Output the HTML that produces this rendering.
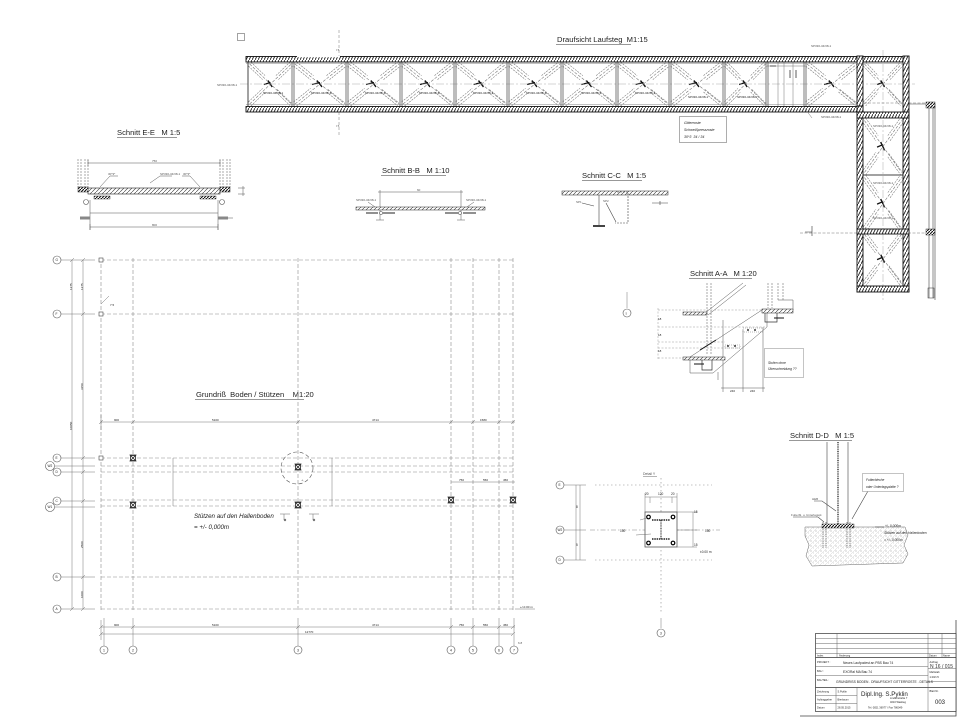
<!DOCTYPE html>
<html><head><meta charset="utf-8">
<style>
html,body{margin:0;padding:0;background:#fff;}
svg{display:block;}
text{font-family:"Liberation Sans",sans-serif;fill:#222;white-space:pre;}
.t{font-size:7.6px;}
.s{font-size:3px;fill:#555;}
.m{font-size:4.5px;fill:#333;}
.g{stroke:#8a8a8a;stroke-width:0.6;stroke-dasharray:4 2;fill:none;}
.l{stroke:#333;stroke-width:0.6;fill:none;}
.d{stroke:#666;stroke-width:0.45;fill:none;}
.c{stroke:#555;stroke-width:0.6;fill:#fff;}
</style></head><body>
<svg width="960" height="720" viewBox="0 0 960 720" xmlns="http://www.w3.org/2000/svg">
<defs>
<pattern id="h" width="3" height="3" patternUnits="userSpaceOnUse"><rect width="3" height="3" fill="#fff"/><path d="M0,3L3,0" stroke="#111" stroke-width="1.1"/></pattern>
<pattern id="rl" width="3" height="6" patternUnits="userSpaceOnUse"><rect width="3" height="6" fill="#fff"/><path d="M0,6L3,0" stroke="#222" stroke-width="0.9"/></pattern>
<pattern id="gr" width="4" height="4" patternUnits="userSpaceOnUse"><rect width="4" height="4" fill="#fff"/><path d="M0,4L4,0" stroke="#333" stroke-width="0.6"/></pattern>
<pattern id="conc" width="5" height="5" patternUnits="userSpaceOnUse"><rect width="5" height="5" fill="#fff"/><circle cx="1" cy="1" r="0.45" fill="#777"/><circle cx="3.5" cy="3" r="0.35" fill="#999"/><path d="M0,5L5,0" stroke="#bbb" stroke-width="0.35"/></pattern>
<symbol id="pn" viewBox="0 0 54 44" preserveAspectRatio="none">
 <path d="M2,2L52,42M2,42L52,2" stroke="#777" stroke-width="0.6" stroke-dasharray="3 1.5" fill="none" vector-effect="non-scaling-stroke"/>
 <path d="M3.5,0L20.5,13.6M0.5,4L17.5,17.6M35,27.5L52,41M33.5,30L50.5,43.6M3.5,44L20.5,30.4M0.5,40L17.5,26.4M36.5,17.6L53.5,4M33.5,13.6L50.5,0" stroke="#777" stroke-width="0.55" stroke-dasharray="2 1" fill="none" vector-effect="non-scaling-stroke"/>
 <path d="M19,22.5L27,20.5M24,18.5L29,25" stroke="#111" stroke-width="1.3" fill="none" vector-effect="non-scaling-stroke"/>
</symbol>
<symbol id="col" viewBox="0 0 8 8">
 <rect x="1.5" y="1.5" width="5" height="5" fill="#fff" stroke="#222" stroke-width="0.8"/>
 <path d="M1.5,1.5L6.5,6.5M6.5,1.5L1.5,6.5M0.5,1H7.5M0.5,7H7.5" stroke="#222" stroke-width="0.8"/>
</symbol>
</defs>
<rect width="960" height="720" fill="#fff"/>

<!-- ================= DRAUFSICHT LAUFSTEG ================= -->
<rect x="237.5" y="33.5" width="7" height="7" fill="none" stroke="#666" stroke-width="0.6"/>
<text x="557" y="42" class="t">Draufsicht Laufsteg  M1:15</text>
<line x1="556" y1="44.5" x2="631" y2="44.5" stroke="#333" stroke-width="0.6"/>

<!-- section mark E-E -->
<line x1="339" y1="30" x2="339" y2="56" class="d" stroke-dasharray="3 2"/>
<line x1="339" y1="112" x2="339" y2="135" class="d" stroke-dasharray="3 2"/>
<text x="336" y="51" class="s">I 5</text>
<text x="336" y="127" class="s">I 5</text>

<!-- panels horizontal -->
<use href="#pn" x="248" y="62" width="45" height="44"/>
<use href="#pn" x="293" y="62" width="54" height="44"/>
<use href="#pn" x="347" y="62" width="54" height="44"/>
<use href="#pn" x="401" y="62" width="54" height="44"/>
<use href="#pn" x="455" y="62" width="53" height="44"/>
<use href="#pn" x="508" y="62" width="54" height="44"/>
<use href="#pn" x="562" y="62" width="55" height="44"/>
<use href="#pn" x="617" y="62" width="53" height="44"/>
<use href="#pn" x="670" y="62" width="54" height="44"/>
<use href="#pn" x="724" y="62" width="43" height="44"/>
<use href="#pn" x="805" y="62" width="54" height="44"/>
<use href="#pn" x="863" y="62" width="40" height="44"/>
<!-- panels vertical -->
<use href="#pn" x="863" y="118" width="40" height="57"/>
<use href="#pn" x="863" y="175" width="40" height="57"/>
<use href="#pn" x="863" y="232" width="40" height="54"/>

<!-- centerlines -->
<line x1="240" y1="84" x2="915" y2="84" stroke="#aaa" stroke-width="0.5" stroke-dasharray="8 2 2 2"/>
<line x1="883" y1="50" x2="883" y2="300" stroke="#aaa" stroke-width="0.5" stroke-dasharray="8 2 2 2"/>
<line x1="800" y1="233" x2="935" y2="233" stroke="#777" stroke-width="0.5" stroke-dasharray="3 1.5"/>
<line x1="850" y1="103" x2="935" y2="103" stroke="#777" stroke-width="0.5" stroke-dasharray="3 1.5"/>

<!-- blank panel dims -->
<path d="M778,62V106M784,62V106M793,62V106M767,66H805" class="d"/>
<path d="M770,66h6M790,70v8M796,70v8" stroke="#333" stroke-width="0.8"/>

<!-- dividers (double lines) -->
<g stroke="#444" stroke-width="0.7">
<path d="M292,56V112M294,56V112M346,56V112M348,56V112M400,56V112M402,56V112M454,56V112M456,56V112M507,56V112M509,56V112M561,56V112M563,56V112M616,56V112M618,56V112M669,56V112M671,56V112M723,56V112M725,56V112M766,56V112M768,56V112M804,56V112M806,56V112"/>
<path d="M248,56V112" stroke-width="1"/>
<path d="M863,175H903M863,232H903" stroke-width="1"/>
</g>

<!-- rails -->
<g stroke="#111" stroke-width="0.9" fill="url(#rl)">
<rect x="246" y="56.5" width="663" height="5.5"/>
<rect x="246" y="106.5" width="617" height="5.5"/>
<rect x="857" y="106" width="6" height="186"/>
<rect x="903" y="56" width="6" height="236"/>
<rect x="857" y="286" width="52" height="6"/>
<rect x="857" y="112" width="52" height="6"/>
<rect x="857" y="229" width="52" height="5"/>
<rect x="857" y="56" width="6" height="50"/>
</g>
<path d="M246,63.5H909M246,104.5H857" stroke="#666" stroke-width="0.4"/>
<path d="M297,56.5H340" stroke="#fff" stroke-width="1.5"/>

<!-- outside right rail -->
<path d="M909,104H935V300M929,108V298M933,108V298" stroke="#444" stroke-width="0.6" fill="none"/>
<rect x="926" y="102" width="9" height="6" fill="url(#h)" stroke="#333" stroke-width="0.5"/>
<rect x="926" y="229" width="9" height="6" fill="url(#h)" stroke="#333" stroke-width="0.5"/>
<rect x="928" y="288" width="6" height="10" fill="none" stroke="#333" stroke-width="0.5"/>
<path d="M812,236V226M805,232H812" stroke="#333" stroke-width="0.6"/>

<!-- walkway small labels -->
<text x="217" y="86" class="s">SP330-34/38-1</text>
<text x="811" y="47" class="s">SP330-34/38-1</text>
<text x="821" y="118" class="s">SP330-34/38-1</text>
<text x="873" y="127" class="s">SP330-34/38-1</text>
<text x="873" y="184" class="s">SP330-34/38-1</text>
<text x="873" y="219" class="s">SP330-34/38-1</text>
<g class="s"><text x="263" y="94">SP330-34/38-1</text><text x="311" y="94">SP330-34/38-1</text><text x="365" y="94">SP330-34/38-1</text><text x="419" y="94">SP330-34/38-1</text><text x="473" y="94">SP330-34/38-1</text><text x="526" y="94">SP330-34/38-1</text><text x="581" y="94">SP330-34/38-1</text><text x="635" y="94">SP330-34/38-1</text><text x="688" y="98">SP330-34/38-1</text><text x="737" y="98">SP330-34/38-1</text></g>
<path d="M803,106L812,118" class="d"/>

<!-- note box -->
<rect x="679.5" y="116.5" width="47" height="26" fill="#fff" stroke="#777" stroke-width="0.6"/>
<g font-style="italic" class="s" style="font-size:3.6px"><text x="684" y="124">Gitterroste</text><text x="684" y="131">Schweißpressroste</text><text x="684" y="138">30*3  34 / 34</text></g>

<!-- ================= SCHNITT E-E ================= -->
<text x="117" y="135" class="t">Schnitt E-E   M 1:5</text>
<line x1="117" y1="137.5" x2="177" y2="137.5" stroke="#333" stroke-width="0.6"/>
<g stroke="#555" stroke-width="0.5" fill="none">
<path d="M78,159V187M81,159V187M85,159V187M88,159V187" stroke-dasharray="2 1"/>
<path d="M220,159V187M223,159V187M227,159V187M230,159V187" stroke-dasharray="2 1"/>
<path d="M88,163H220M88,160V166M220,160V166"/>
<path d="M90,213H218M90,227H218M90,224V230M218,224V230M90,200V230M218,200V230"/>
<path d="M80,218H90M223,218H233"/>
<path d="M238,188H245M238,194H245M243,186V196"/>
<path d="M100,187L110,176H118M200,187L190,176H182M150,183L160,176H172"/>
</g>
<rect x="88" y="188" width="132" height="6" fill="url(#gr)" stroke="#222" stroke-width="0.6"/>
<rect x="78" y="187" width="10" height="5" fill="url(#h)" stroke="#222" stroke-width="0.5"/>
<rect x="220" y="187" width="10" height="5" fill="url(#h)" stroke="#222" stroke-width="0.5"/>
<rect x="94" y="196" width="16" height="3" fill="url(#h)" stroke="#222" stroke-width="0.4"/>
<rect x="200" y="196" width="16" height="3" fill="url(#h)" stroke="#222" stroke-width="0.4"/>
<circle cx="86" cy="202" r="2.5" class="c"/><circle cx="222" cy="202" r="2.5" class="c"/>
<rect x="80" y="216.5" width="10" height="3" fill="#888"/><rect x="218" y="216.5" width="10" height="3" fill="#888"/>
<text x="152" y="162" class="s">750</text><text x="152" y="226" class="s">800</text>
<text x="108" y="175" class="s">30*3*</text><text x="160" y="175" class="s">SP330-34/38-1</text><text x="183" y="175" class="s">30*3*</text>

<!-- ================= SCHNITT B-B ================= -->
<text x="382" y="173" class="t">Schnitt B-B   M 1:10</text>
<line x1="381" y1="175.5" x2="446" y2="175.5" stroke="#333" stroke-width="0.6"/>
<g stroke="#555" stroke-width="0.5" fill="none">
<path d="M380,190V220M461,190V220M378,192H463"/>
<path d="M368,202L375,207M474,202L467,207"/>
<path d="M376,220H384M457,220H465"/>
</g>
<rect x="356" y="207" width="129" height="3" fill="url(#gr)" stroke="#222" stroke-width="0.5"/>
<path d="M366,213H378M383,213H395M445,213H458M463,213H476" stroke="#222" stroke-width="1.1"/>
<circle cx="381" cy="213" r="1.5" class="c"/><circle cx="460" cy="213" r="1.5" class="c"/>
<text x="417" y="191" class="s">60</text>
<text x="356" y="201" class="s">SP330-34/38-1</text>
<text x="466" y="201" class="s">SP330-34/38-1</text>

<!-- ================= SCHNITT C-C ================= -->
<text x="582" y="178" class="t">Schnitt C-C   M 1:5</text>
<line x1="582" y1="180.5" x2="642" y2="180.5" stroke="#333" stroke-width="0.6"/>
<rect x="562" y="191" width="106" height="4" fill="url(#gr)" stroke="#222" stroke-width="0.5"/>
<g stroke="#444" stroke-width="0.6" fill="none">
<path d="M599,195V225M593,226H605"/>
<path d="M617,192H628V223H615" stroke-dasharray="2 1"/>
<path d="M582,203L594,206M606,203L616,222"/>
<path d="M652,203H668M660,201V205"/>
</g>
<rect x="593" y="225" width="12" height="2" fill="#444"/>
<text x="576" y="203" class="s">SP1</text><text x="603" y="202" class="s">SP2</text>

<!-- ================= SCHNITT A-A ================= -->
<text x="690" y="276" class="t">Schnitt A-A   M 1:20</text>
<line x1="689" y1="278.5" x2="752" y2="278.5" stroke="#333" stroke-width="0.6"/>
<line x1="627" y1="292" x2="627" y2="308" class="d"/>
<circle cx="627" cy="313" r="4" class="c"/><text x="625.5" y="314.5" class="s">5</text>
<g stroke="#555" stroke-width="0.5" fill="none">
<path d="M707,283V355M711,283V355" stroke-dasharray="2 1"/>
<path d="M768,283V308M772,283V308M778,283V300M783,283V300" stroke-dasharray="2 1"/>
<path d="M705,313L743,283M708,315L746,285"/>
<path d="M690,357L762,310M713,373L767,327M713,373H690V357M762,310H767V327"/>
<path d="M658,310H790M658,327H767M658,342H725M658,348H740M658,358H700M658,308V360" stroke-dasharray="2 1.5" stroke="#999"/>
<path d="M723,320V392M743,330V392M763,327V392M721,388H765M718,372V380"/>
<path d="M778,300H793V310"/>
</g>
<rect x="683" y="312" width="24" height="3" fill="url(#gr)" stroke="#222" stroke-width="0.5"/>
<rect x="762" y="309" width="31" height="4" fill="url(#gr)" stroke="#222" stroke-width="0.5"/>
<rect x="683" y="357" width="42" height="3" fill="url(#gr)" stroke="#222" stroke-width="0.5"/>
<rect x="725" y="345" width="15" height="3" fill="none" stroke="#777" stroke-width="0.5" stroke-dasharray="1 1"/>
<rect x="743" y="328" width="20" height="4" fill="none" stroke="#777" stroke-width="0.5" stroke-dasharray="1 1"/>
<path d="M727,346h2M734,346h2M747,330h2M754,330h2" stroke="#111" stroke-width="1.2"/>
<path d="M765,313V322H777V313M702,360V370H712V360" stroke="#333" stroke-width="0.7" fill="none"/>
<path d="M774,318H784M694,364H704M700,350L716,340" stroke="#111" stroke-width="0.9"/>
<rect x="764.5" y="348.5" width="39" height="29" fill="#fff" stroke="#888" stroke-width="0.5"/>
<g font-style="italic" class="s" style="font-size:3.3px"><text x="768" y="364">Stufen ohne</text><text x="768" y="370">Überschneidung ??</text></g>
<g class="s"><text x="658" y="320">18</text><text x="658" y="336">18</text><text x="658" y="352">18</text><text x="730" y="392">240</text><text x="750" y="392">240</text></g>

<!-- ================= GRUNDRISS ================= -->
<text x="196" y="397" class="t">Grundriß  Boden / Stützen    M1:20</text>
<line x1="195" y1="399.5" x2="304" y2="399.5" stroke="#333" stroke-width="0.6"/>

<!-- horizontal grid lines -->
<g class="d">
<path d="M61,260H95M61,314H95M61,458H95M55,466H95M61,472H95M61,501H95M55,507H95M61,577H95M61,609H95"/>
</g>
<g class="g">
<path d="M101,260H515M101,314H515M101,458H515M101,466H515M101,472H515M101,500H515M101,506H515M101,577H515M101,609H515"/>
<path d="M101,258V612M133,258V612M298,258V612M451,258V612M473,258V612M499,258V612M513,258V612"/>
</g>
<!-- bottom extension lines + axis circles -->
<g class="d"><path d="M104,618V646M133,618V646M298,618V646M451,618V646M473,618V646M499,618V646M514,618V646"/></g>
<g>
<circle cx="104" cy="650" r="4" class="c"/><circle cx="133" cy="650" r="4" class="c"/><circle cx="298" cy="650" r="4" class="c"/><circle cx="451" cy="650" r="4" class="c"/><circle cx="473" cy="650" r="4" class="c"/><circle cx="499" cy="650" r="4" class="c"/><circle cx="514" cy="650" r="4" class="c"/>
</g>
<g class="s" style="font-size:3.5px"><text x="103" y="651.5">1</text><text x="132" y="651.5">2</text><text x="297" y="651.5">3</text><text x="450" y="651.5">4</text><text x="472" y="651.5">5</text><text x="498" y="651.5">6</text><text x="513" y="651.5">7</text></g>
<text x="518" y="644" class="s">6.8</text>
<!-- left circles -->
<g>
<circle cx="57" cy="260" r="4" class="c"/><circle cx="57" cy="314" r="4" class="c"/><circle cx="57" cy="458" r="4" class="c"/><circle cx="57" cy="472" r="4" class="c"/><circle cx="57" cy="501" r="4" class="c"/><circle cx="57" cy="577" r="4" class="c"/><circle cx="57" cy="609" r="4" class="c"/>
<circle cx="50" cy="466" r="4.5" class="c"/><circle cx="50" cy="507" r="4.5" class="c"/>
</g>
<g class="s" style="font-size:3.2px"><text x="55.5" y="261">G</text><text x="55.5" y="315">F</text><text x="55.5" y="459">E</text><text x="55.5" y="473">D</text><text x="55.5" y="502">C</text><text x="55.5" y="578">B</text><text x="55.5" y="610">A</text><text x="47.5" y="467">W2</text><text x="47.5" y="508">W1</text></g>

<!-- dimension lines -->
<g class="d">
<path d="M72,260V609M83,260V609"/>
<path d="M70,262l4,-4M81,262l4,-4M81,316l4,-4M81,460l4,-4M81,474l4,-4M81,503l4,-4M81,579l4,-4M70,611l4,-4M81,611l4,-4"/>
<path d="M101,422H515M101,627H515M101,634H513M101,415V430M101,620V640"/>
<path d="M99,424l4,-4M131,424l4,-4M296,424l4,-4M449,424l4,-4M471,424l4,-4M497,424l4,-4M511,424l4,-4"/>
<path d="M99,629l4,-4M131,629l4,-4M296,629l4,-4M449,629l4,-4M471,629l4,-4M497,629l4,-4M511,629l4,-4M99,636l4,-4M511,636l4,-4"/>
<path d="M173,458V506M332,458V506M451,482H515M101,304L109,296"/>
</g>
<g class="s">
<text x="72" y="290" transform="rotate(-90 72 290)">1275</text>
<text x="83" y="290" transform="rotate(-90 83 290)">1275</text>
<text x="83" y="390" transform="rotate(-90 83 390)">3150</text>
<text x="72" y="430" transform="rotate(-90 72 430)">10050</text>
<text x="83" y="548" transform="rotate(-90 83 548)">2500</text>
<text x="83" y="598" transform="rotate(-90 83 598)">1000</text>
<text x="114" y="421">900</text><text x="212" y="421">5100</text><text x="372" y="421">4714</text><text x="480" y="421">1580</text>
<text x="114" y="626">900</text><text x="212" y="626">5100</text><text x="372" y="626">4714</text><text x="459" y="626">750</text><text x="483" y="626">550</text><text x="503" y="626">450</text>
<text x="305" y="633">12770</text>
<text x="459" y="481">750</text><text x="483" y="481">550</text><text x="503" y="481">450</text>
<text x="110" y="306">7.5</text>
<text x="520" y="608">+/-0.00 m</text>
</g>
<line x1="515" y1="609" x2="535" y2="609" class="d"/>
<!-- small squares at axis 1 -->
<g fill="#fff" stroke="#444" stroke-width="0.6">
<rect x="99" y="258" width="4" height="4"/><rect x="99" y="312" width="4" height="4"/><rect x="99" y="456" width="4" height="4"/>
</g>
<!-- columns -->
<use href="#col" x="129" y="454" width="8" height="8"/>
<use href="#col" x="129" y="501" width="8" height="8"/>
<use href="#col" x="294" y="463" width="8" height="8"/>
<use href="#col" x="294" y="501" width="8" height="8"/>
<use href="#col" x="447" y="496" width="8" height="8"/>
<use href="#col" x="509" y="496" width="8" height="8"/>
<circle cx="297" cy="468" r="16" fill="none" stroke="#555" stroke-width="0.6" stroke-dasharray="4 2.5"/>
<text x="303" y="482" class="s" transform="rotate(-60 303 482)">Y</text>
<g stroke="#666" stroke-width="0.5" fill="none"><path d="M280,514h10M284,514v6M309,514h10M313,514v6"/></g>
<g fill="#777"><circle cx="285" cy="520" r="1.2"/><circle cx="314" cy="520" r="1.2"/></g>
<g font-style="italic" style="font-size:6.2px;fill:#222"><text x="194" y="518">Stützen auf den Hallenboden</text><text x="194" y="529">= +/- 0,000m</text></g>

<!-- ================= DETAIL Y ================= -->
<text x="643" y="475" class="s" style="font-size:3.5px">Detail Y</text>
<line x1="643" y1="476.5" x2="657" y2="476.5" stroke="#444" stroke-width="0.4"/>
<g stroke="#888" stroke-width="0.6" fill="none">
<path d="M595,485H712M595,560H712" stroke-dasharray="1.5 2.5"/>
<path d="M590,530H720" stroke-dasharray="5 2 1.5 2"/>
<path d="M661,478V613" stroke-dasharray="1.5 2.5"/>
</g>
<g class="d">
<path d="M564,485H586M564,530H586M564,560H586M576,485V560M580,485V560"/>
<path d="M645,497H677M645,493V512M677,493V512M650,497V503M672,497V503"/>
<path d="M677,512H697M677,547H697M693,512V547M677,530H697"/>
<path d="M661,618V628"/>
</g>
<circle cx="560" cy="485" r="4" class="c"/><circle cx="560" cy="530" r="4" class="c"/><circle cx="560" cy="560" r="4" class="c"/>
<circle cx="661" cy="633" r="4" class="c"/>
<g class="s" style="font-size:3.2px"><text x="558.5" y="486">E</text><text x="557.5" y="531">W2</text><text x="558.5" y="561">D</text><text x="660" y="634.5">3</text>
<text x="645" y="495">20</text><text x="658" y="495">120</text><text x="671" y="495">20</text>
<text x="620" y="532">150</text><text x="705" y="532">150</text><text x="576" y="508">8</text><text x="576" y="546">5</text>
<text x="694" y="513">15</text><text x="694" y="546">15</text><text x="700" y="553">±0.00 m</text></g>
<rect x="645" y="512" width="32" height="35" fill="#fff" stroke="#555" stroke-width="0.8"/>
<path d="M652,520H670M652,539H670" stroke="#222" stroke-width="1.4" stroke-dasharray="1.5 0.8"/>
<path d="M661,520V539" stroke="#222" stroke-width="1" stroke-dasharray="1 0.6"/>
<g fill="#fff" stroke="#000" stroke-width="1.2">
<circle cx="648.5" cy="517" r="1.8"/><circle cx="673" cy="517" r="1.8"/><circle cx="648.5" cy="543" r="1.8"/><circle cx="673" cy="543" r="1.8"/>
</g>
<path d="M640,520L647,518M636,535L651,534" class="d"/>

<!-- ================= SCHNITT D-D ================= -->
<text x="790" y="438" class="t">Schnitt D-D   M 1:5</text>
<line x1="789" y1="440.5" x2="852" y2="440.5" stroke="#333" stroke-width="0.6"/>
<polygon points="805,527 905,527 908,535 904,545 908,554 903,563 812,566 806,556 809,545 805,536" fill="url(#conc)" stroke="#666" stroke-width="0.5"/>
<g stroke="#444" stroke-width="0.6" fill="none">
<path d="M827,442V525M848,442V525"/>
<path d="M838,442V525" stroke="#222" stroke-width="1.3" stroke-dasharray="1 0.8"/>
<path d="M823,522V548M826,522V548M847,522V548M850,522V548" stroke-dasharray="1.5 0.8"/>
<path d="M793,517H818L824,522M814,501H822L836,511M868,491L852,519"/>
<path d="M875,527H884"/>
</g>
<rect x="822" y="524" width="32" height="4" fill="url(#h)" stroke="#222" stroke-width="0.4"/>
<rect x="862.5" y="473.5" width="41" height="18" fill="#fff" stroke="#888" stroke-width="0.5"/>
<g font-style="italic" class="s" style="font-size:3.3px"><text x="866" y="481">Futterbleche</text><text x="866" y="488">oder Unterlagsplatte ?</text>
<text x="885" y="527">+/- 0,000m</text><text x="884" y="534">Stützen auf den Hallenboden</text><text x="884" y="541">= +/- 0,000m</text></g>
<text x="791" y="516" class="s">Futterbl. u. Unterlagspl.</text>
<text x="812" y="500" class="s">HEB</text>

<!-- ================= TITLE BLOCK ================= -->
<path d="M956,620V716H800" stroke="#444" stroke-width="0.8" fill="none"/>
<rect x="815.5" y="633.5" width="140.5" height="78" fill="#fff" stroke="#333" stroke-width="0.7"/>
<g stroke="#555" stroke-width="0.45" fill="none">
<path d="M815.5,638.5H956M815.5,643.5H956M815.5,648.5H956M815.5,653.5H956"/>
<path d="M815.5,657.5H956" stroke="#333" stroke-width="0.7"/>
<path d="M815.5,666.5H928M815.5,675.5H928M928,668.5H956M928,681.5H956"/>
<path d="M815.5,687.5H956" stroke="#333" stroke-width="0.7"/>
<path d="M815.5,695.5H857M815.5,703.5H857"/>
<path d="M837,633.5V657.5M928,633.5V711.5M942,633.5V657.5M836,687.5V711.5M857,687.5V711.5"/>
</g>
<g class="s" style="font-size:2.6px">
<text x="817" y="656.5">Index</text><text x="839" y="656.5">Änderung</text><text x="929" y="656.5">Datum</text><text x="943" y="656.5">Name</text>
<text x="817" y="663">PROJEKT :</text><text x="817" y="672">BAU :</text><text x="817" y="681">BAUTEIL :</text>
<text x="817" y="692.5">Zeichnung</text><text x="817" y="700.5">Auftraggeber</text><text x="817" y="708.5">Datum</text>
<text x="837.5" y="692.5">S.Pyklin</text><text x="837.5" y="700.5">Bierbaum</text><text x="837.5" y="708.5">28.05.2015</text>
<text x="929.5" y="663">Auftrag</text><text x="929.5" y="673">Maßstab</text><text x="929.5" y="678">1:20/1:5</text><text x="929.5" y="692">Blatt Nr.</text>
<text x="890" y="699">Lindenstraße 7</text><text x="890" y="703">4010 Wasbeg</text><text x="868" y="708.5">Tel. 0821 36977 / Fax 786049</text>
</g>
<g class="s" style="font-size:3.3px;fill:#333">
<text x="843" y="664">Neues Laufpodest an PBS Bau 74</text>
<text x="843" y="673">EXORal MA Bau 74</text>
<text x="836" y="683">GRUNDRISS BODEN . DRAUFSICHT GITTERROSTE . DETAILS</text>
</g>
<text x="930" y="668" style="font-size:5px;fill:#333">N 16 / 015</text>
<text x="861" y="696" style="font-size:6.2px;fill:#222">Dipl.Ing. S.Pyklin</text>
<text x="935" y="704" style="font-size:6px;fill:#222">003</text>
</svg>
</body></html>
